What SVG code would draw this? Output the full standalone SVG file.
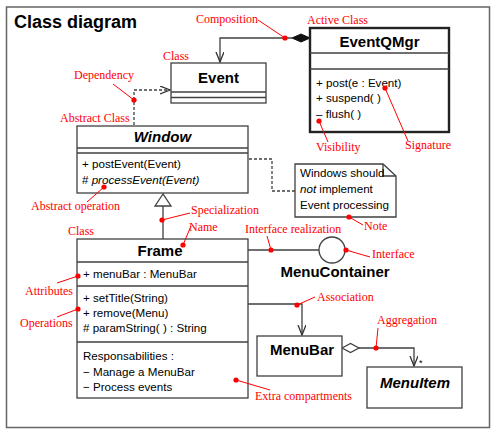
<svg xmlns="http://www.w3.org/2000/svg" width="496" height="435" viewBox="0 0 496 435">
<defs>
<style>
.box{fill:#fff;stroke:#404040;stroke-width:1.3}
.thick{fill:#fff;stroke:#222;stroke-width:2.4}
.sep{stroke:#404040;stroke-width:1.3}
.ln{fill:none;stroke:#404040;stroke-width:1.3}
.dash{fill:none;stroke:#404040;stroke-width:1.3;stroke-dasharray:3,2}
.t{font-family:"Liberation Sans",Arial,sans-serif;font-size:11.6px;fill:#000}
.b{font-family:"Liberation Sans",Arial,sans-serif;font-size:15px;font-weight:bold;fill:#000;text-anchor:middle}
.lbl{font-family:"Liberation Serif","Times New Roman",serif;font-size:12px;fill:#f00}
.lead{stroke:#f00;stroke-width:1;fill:none}
.dot{fill:#f00}
</style>
<marker id="open" markerWidth="12" markerHeight="10" refX="10" refY="4" orient="auto" markerUnits="userSpaceOnUse">
<path d="M0,0 L10,4 L0,8" fill="none" stroke="#333" stroke-width="1.3"/>
</marker>
</defs>
<rect x="0" y="0" width="496" height="435" fill="#fff"/>
<rect x="6.5" y="7" width="483" height="420.5" fill="#fff" stroke="#666" stroke-width="1.5"/>
<text x="14" y="28" font-family="Liberation Sans,Arial,sans-serif" font-size="18" font-weight="bold">Class diagram</text>

<g id="connectors">
<polyline class="ln" points="292,38 220,38 220,62" marker-end="url(#open)"/>
<polygon points="292,38 301,34 310,38 301,42" fill="#111" stroke="#111"/>
<polyline class="dash" points="134,125 134,90 170,90" marker-end="url(#open)"/>
<polyline class="dash" points="249,159 272,159 272,191 295,191"/>
<line class="ln" x1="163" y1="206" x2="163" y2="239"/>
<polygon points="163,194 155,206 171,206" fill="#fff" stroke="#404040" stroke-width="1.3"/>
<line class="ln" x1="248" y1="250" x2="319" y2="250"/>
<polyline class="ln" points="248,304 302,304 302,335" marker-end="url(#open)"/>
<polyline class="ln" points="359,348 414,348 414,366" marker-end="url(#open)"/>
<polygon points="342,348 350.5,343.5 359,348 350.5,352.5" fill="#fff" stroke="#404040" stroke-width="1.3"/>
<text x="419" y="366" font-family="Liberation Sans,Arial,sans-serif" font-size="9">*</text>
</g>

<g id="event">
<rect class="box" x="171" y="63" width="95" height="40"/>
<line class="sep" x1="171" y1="92" x2="266" y2="92"/>
<line class="sep" x1="171" y1="97.5" x2="266" y2="97.5"/>
<text class="b" x="218.5" y="83">Event</text>
</g>

<g id="eventqmgr">
<rect class="thick" x="310" y="28" width="139" height="104"/>
<line class="sep" x1="310" y1="53" x2="449" y2="53"/>
<line class="sep" x1="310" y1="69" x2="449" y2="69"/>
<text class="b" x="379.5" y="47">EventQMgr</text>
<text class="t" x="316" y="87">+ post(e : Event)</text>
<text class="t" x="316" y="102">+ suspend( )</text>
<text class="t" x="316" y="118">– flush( )</text>
</g>

<g id="window">
<rect class="box" x="77" y="126" width="171" height="67"/>
<line class="sep" x1="77" y1="148" x2="248" y2="148"/>
<line class="sep" x1="77" y1="153" x2="248" y2="153"/>
<text class="b" x="162.5" y="142" font-style="italic">Window</text>
<text class="t" x="82" y="168">+ postEvent(Event)</text>
<text class="t" x="82" y="184"># <tspan font-style="italic">processEvent(Event)</tspan></text>
</g>

<g id="note">
<path d="M295,164 L383,164 L396,176 L396,217 L295,217 Z" fill="#fff" stroke="#404040" stroke-width="1.3"/>
<path d="M383,164 L383,176 L396,176" fill="none" stroke="#404040" stroke-width="1.3"/>
<text class="t" x="300" y="177">Windows should</text>
<text class="t" x="300" y="193"><tspan font-style="italic">not</tspan> implement</text>
<text class="t" x="300" y="209">Event processing</text>
</g>

<g id="frame">
<rect class="box" x="77" y="239" width="171" height="159"/>
<line class="sep" x1="77" y1="262" x2="248" y2="262"/>
<line class="sep" x1="77" y1="286" x2="248" y2="286"/>
<line class="sep" x1="77" y1="342" x2="248" y2="342"/>
<text class="b" x="160" y="256">Frame</text>
<text class="t" x="83" y="278">+ menuBar : MenuBar</text>
<text class="t" x="83" y="302">+ setTitle(String)</text>
<text class="t" x="83" y="317">+ remove(Menu)</text>
<text class="t" x="83" y="332"># paramString( ) : String</text>
<text class="t" x="83" y="360">Responsabilities :</text>
<text class="t" x="83" y="376">− Manage a MenuBar</text>
<text class="t" x="83" y="391">− Process events</text>
</g>

<g id="menucontainer">
<circle cx="332" cy="250" r="13" fill="#fff" stroke="#404040" stroke-width="1.3"/>
<text class="b" x="335" y="277">MenuContainer</text>
</g>

<g id="menubar">
<rect class="box" x="257" y="336" width="85" height="40"/>
<text class="b" x="302" y="355">MenuBar</text>
</g>

<g id="menuitem">
<rect class="box" x="367" y="367" width="95" height="41"/>
<text class="b" x="415" y="388" font-style="italic">MenuItem</text>
</g>

<g id="annotations">
<text class="lbl" x="196" y="23">Composition</text>
<line class="lead" x1="258" y1="20" x2="285" y2="38"/>
<circle class="dot" cx="285" cy="38" r="2.6"/>
<text class="lbl" x="307" y="24">Active Class</text>
<text class="lbl" x="163" y="60">Class</text>
<text class="lbl" x="74" y="79">Dependency</text>
<line class="lead" x1="113" y1="84" x2="134" y2="100"/>
<circle class="dot" cx="134" cy="100" r="2.6"/>
<text class="lbl" x="60" y="122">Abstract Class</text>
<text class="lbl" x="31" y="210">Abstract operation</text>
<line class="lead" x1="87" y1="202" x2="104" y2="187"/>
<circle class="dot" cx="104" cy="187" r="2.6"/>
<text class="lbl" x="191" y="214">Specialization</text>
<line class="lead" x1="190" y1="213" x2="162" y2="220"/>
<circle class="dot" cx="162" cy="220" r="2.6"/>
<text class="lbl" x="189" y="231">Name</text>
<line class="lead" x1="191" y1="226" x2="183" y2="245"/>
<circle class="dot" cx="183" cy="245" r="2.6"/>
<text class="lbl" x="68" y="235">Class</text>
<text class="lbl" x="245" y="233">Interface realization</text>
<line class="lead" x1="267" y1="236" x2="271" y2="250"/>
<circle class="dot" cx="271" cy="250" r="2.6"/>
<text class="lbl" x="372" y="258">Interface</text>
<line class="lead" x1="370" y1="257" x2="346" y2="250"/>
<circle class="dot" cx="346" cy="250" r="2.6"/>
<text class="lbl" x="364" y="230">Note</text>
<line class="lead" x1="363" y1="225" x2="349" y2="217"/>
<circle class="dot" cx="349" cy="217" r="2.6"/>
<text class="lbl" x="316" y="151">Visibility</text>
<line class="lead" x1="328" y1="142" x2="319" y2="121"/>
<circle class="dot" cx="319" cy="121" r="2.6"/>
<text class="lbl" x="405" y="149">Signature</text>
<line class="lead" x1="408" y1="141" x2="385" y2="88"/>
<circle class="dot" cx="385" cy="88" r="2.6"/>
<text class="lbl" x="25" y="295">Attributes</text>
<line class="lead" x1="57" y1="283" x2="78" y2="276"/>
<circle class="dot" cx="78" cy="276" r="2.6"/>
<text class="lbl" x="20" y="327">Operations</text>
<line class="lead" x1="57" y1="317" x2="78" y2="309"/>
<circle class="dot" cx="78" cy="309" r="2.6"/>
<text class="lbl" x="255" y="400">Extra compartments</text>
<line class="lead" x1="236" y1="380" x2="270" y2="390"/>
<circle class="dot" cx="236" cy="380" r="2.6"/>
<text class="lbl" x="317" y="301">Association</text>
<line class="lead" x1="315" y1="297" x2="297" y2="305"/>
<circle class="dot" cx="297" cy="305" r="2.6"/>
<text class="lbl" x="377" y="324">Aggregation</text>
<line class="lead" x1="378" y1="328" x2="376" y2="348"/>
<circle class="dot" cx="376" cy="348" r="2.6"/>
</g>
</svg>
